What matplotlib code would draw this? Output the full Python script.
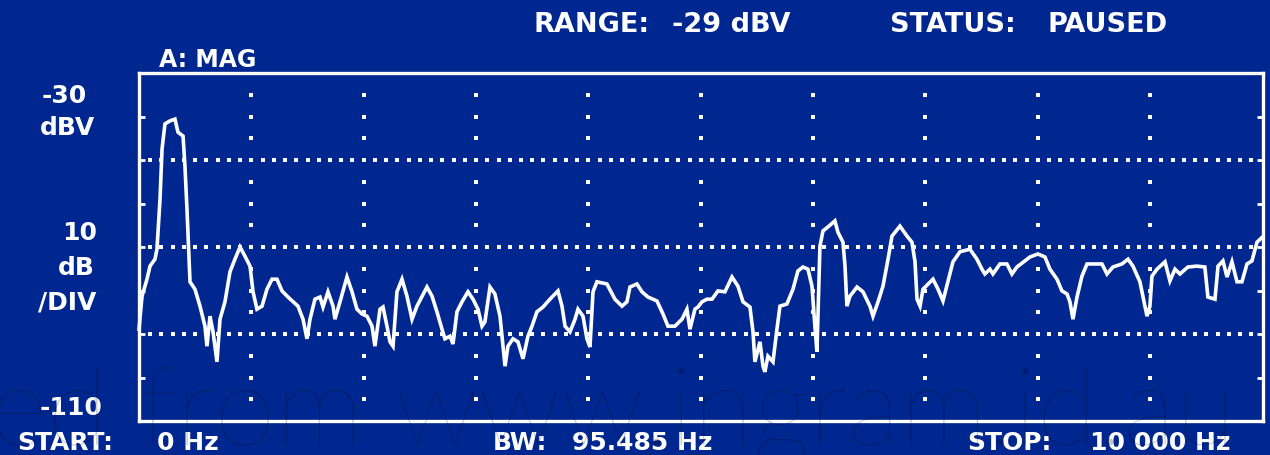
"""Spectrum analyser screen: magnitude trace 0-10 kHz, 10 dB/div."""

import matplotlib

matplotlib.use("Agg")
import matplotlib.pyplot as plt
import numpy as np

# trace (Hz, dBV)
freq_hz = [
    0, 27, 71, 98, 142, 160, 187, 205, 231, 276, 320, 347, 392, 409, 427, 454,
    498, 543, 587, 605, 632, 659, 694, 721, 765, 810, 854, 899, 943, 988, 1015,
    1050, 1095, 1139, 1184, 1228, 1273, 1326, 1415, 1460, 1495, 1522, 1566, 1611,
    1638, 1682, 1727, 1744, 1789, 1851, 1896, 1940, 1985, 2029, 2074, 2100, 2145,
    2172, 2207, 2234, 2261, 2296, 2341, 2385, 2430, 2474, 2563, 2608, 2652, 2697,
    2723, 2768, 2795, 2830, 2875, 2928, 2973, 3017, 3053, 3079, 3124, 3168, 3213,
    3258, 3284, 3329, 3373, 3418, 3462, 3498, 3542, 3596, 3658, 3729, 3765, 3792,
    3836, 3881, 3907, 3952, 3987, 4014, 4041, 4076, 4165, 4236, 4299, 4343, 4370,
    4432, 4477, 4530, 4610, 4664, 4708, 4770, 4833, 4877, 4904, 4948, 4975, 5011,
    5055, 5100, 5153, 5215, 5278, 5331, 5376, 5438, 5465, 5482, 5527, 5554, 5571,
    5598, 5643, 5678, 5705, 5767, 5821, 5865, 5910, 5954, 5990, 6016, 6034, 6061,
    6088, 6132, 6194, 6221, 6266, 6284, 6301, 6328, 6391, 6444, 6506, 6533, 6578,
    6622, 6667, 6702, 6773, 6836, 6880, 6907, 6925, 6952, 6978, 7067, 7112, 7156,
    7200, 7245, 7307, 7396, 7458, 7503, 7529, 7574, 7601, 7663, 7725, 7770, 7814,
    7885, 7930, 8001, 8064, 8108, 8171, 8215, 8260, 8286, 8313, 8349, 8393, 8438,
    8527, 8571, 8616, 8669, 8749, 8803, 8847, 8909, 8972, 8998, 9016, 9061, 9132,
    9176, 9221, 9265, 9336, 9416, 9487, 9514, 9577, 9604, 9648, 9684, 9728, 9773,
    9817, 9862, 9906, 9951, 10000,
]
level_dbv = [
    -88.9, -81.3, -77.4, -74.4, -72.8, -70.5, -59.0, -47.5, -41.7, -41.0, -40.6,
    -43.6, -44.5, -51.4, -61.3, -78.0, -79.7, -83.6, -88.2, -92.8, -85.9, -89.5,
    -96.4, -86.6, -82.6, -75.7, -72.8, -70.0, -72.1, -74.4, -80.3, -84.3, -83.6,
    -79.7, -77.4, -77.4, -80.1, -81.5, -83.6, -86.6, -91.1, -86.6, -82.0, -81.5,
    -83.8, -80.3, -83.6, -86.6, -82.6, -76.9, -80.3, -84.3, -85.4, -85.9, -88.2,
    -92.8, -84.3, -83.8, -88.2, -91.8, -92.8, -80.3, -77.4, -81.3, -86.6, -83.6,
    -79.2, -81.3, -84.9, -88.9, -91.1, -90.5, -92.3, -84.9, -82.6, -80.3, -82.0,
    -84.3, -88.2, -87.2, -79.2, -80.8, -85.9, -97.4, -92.8, -91.1, -91.8, -95.7,
    -90.5, -88.2, -84.9, -83.8, -82.0, -80.1, -83.6, -88.2, -89.5, -86.6, -84.3,
    -85.9, -91.1, -93.0, -80.3, -78.0, -78.5, -82.0, -83.6, -82.6, -79.2, -78.5,
    -80.3, -81.5, -82.4, -85.4, -88.2, -88.2, -86.6, -84.3, -88.9, -84.3, -83.8,
    -82.6, -82.0, -82.0, -80.1, -80.3, -76.9, -79.0, -82.6, -83.8, -89.5, -96.4,
    -91.8, -97.4, -98.7, -95.1, -96.4, -88.9, -83.6, -83.1, -79.7, -75.5, -74.6,
    -75.1, -79.0, -88.2, -94.1, -69.8, -66.3, -65.4, -64.0, -66.6, -68.9, -74.4,
    -83.6, -81.3, -79.2, -80.3, -83.6, -85.9, -82.6, -79.0, -72.8, -67.5, -65.2,
    -67.5, -68.9, -73.4, -82.0, -83.6, -79.7, -77.4, -79.7, -82.4, -78.0, -73.4,
    -71.1, -70.5, -72.8, -75.1, -76.2, -75.1, -76.2, -73.9, -73.9, -76.2, -74.6,
    -73.2, -72.3, -71.6, -72.3, -75.1, -77.4, -80.1, -80.8, -82.6, -86.6, -81.5,
    -76.7, -73.9, -73.9, -73.9, -76.2, -74.6, -73.9, -72.8, -74.4, -78.0, -85.9,
    -83.6, -76.7, -75.1, -73.4, -77.8, -75.1, -76.2, -74.6, -74.4, -74.6, -81.5,
    -82.0, -74.4, -73.2, -76.9, -73.4, -78.0, -78.0, -73.9, -73.2, -68.9, -67.7,
]

# screen settings
f_start, f_stop = 0, 10000
ref_level, db_per_div, n_div = -30, 10, 8
grid_freqs = [1000, 2000, 3000, 4000, 5000, 6000, 7000, 8000, 9000]
dotted_levels = [-50, -70, -90]

BG = "#002790"
FG = "white"
W, H = 1270, 456


def px(x, y):
    """Pixel position (from top-left) to figure fraction."""
    return x / W, 1 - y / H


fig = plt.figure(figsize=(W / 100, H / 100), dpi=100, facecolor=BG)
bottom_db = ref_level - db_per_div * n_div
ax = fig.add_axes([139 / W, 1 - 422 / H, (1262.5 - 139) / W, 348 / H])
ax.set_facecolor(BG)
ax.set_xlim(f_start, f_stop)
ax.set_ylim(bottom_db, ref_level)

for sp in ax.spines.values():
    sp.set_color(FG)
    sp.set_linewidth(2.4)

ax.set_xticks([])
ax.set_yticks(np.arange(bottom_db + db_per_div, ref_level, db_per_div))
ax.tick_params(axis="y", direction="in", length=4, width=2, color=FG,
               left=True, right=True, labelleft=False)

# dotted graticule
half_div_levels = np.arange(bottom_db + 5, ref_level, 5)
for f in grid_freqs:
    ax.plot([f] * len(half_div_levels), half_div_levels, ls="none",
            marker="s", ms=2.4, color=FG, mew=0)
dot_freqs = np.arange(f_start + 100, f_stop, 100)
for lv in dotted_levels:
    ax.plot(dot_freqs, [lv] * len(dot_freqs), ls="none",
            marker="s", ms=2.4, color=FG, mew=0)

ax.plot(freq_hz, level_dbv, color=FG, lw=2.6, solid_joinstyle="miter",
        clip_on=False)

font = dict(color=FG, family="DejaVu Sans", weight="bold", va="baseline",
            ha="left")
fig.text(*px(533, 32), "RANGE:", fontsize=19.5, **font)
fig.text(*px(672, 32), "-29 dBV", fontsize=19.5, **font)
fig.text(*px(890, 32), "STATUS:", fontsize=19.5, **font)
fig.text(*px(1047, 32), "PAUSED", fontsize=19.5, **font)
fig.text(*px(159, 67), "A: MAG", fontsize=17, **font)

fig.text(*px(42, 103), "-30", fontsize=18, **font)
fig.text(*px(40, 135), "dBV", fontsize=18, **font)
fig.text(*px(62, 240), "10", fontsize=18, **font)
fig.text(*px(58, 275), "dB", fontsize=18, **font)
fig.text(*px(38, 310), "/DIV", fontsize=18, **font)
fig.text(*px(40, 415), "-110", fontsize=18, **font)

fig.text(*px(17, 450), "START:", fontsize=18, **font)
fig.text(*px(157, 450), "0 Hz", fontsize=18, **font)
fig.text(*px(493, 450), "BW:", fontsize=18, **font)
fig.text(*px(572, 450), "95.485 Hz", fontsize=18, **font)
fig.text(*px(967, 450), "STOP:", fontsize=18, **font)
fig.text(*px(1090, 450), "10 000 Hz", fontsize=18, **font)

# source watermark, faint, over everything like in the scan
fig.text(*px(-10, 445), "ed from www.ingram.id.au", fontsize=80,
         family="Lato", weight="light", color="black", alpha=0.22,
         va="baseline", ha="left", zorder=10)

fig.savefig("out.png", dpi=100, facecolor=BG)
